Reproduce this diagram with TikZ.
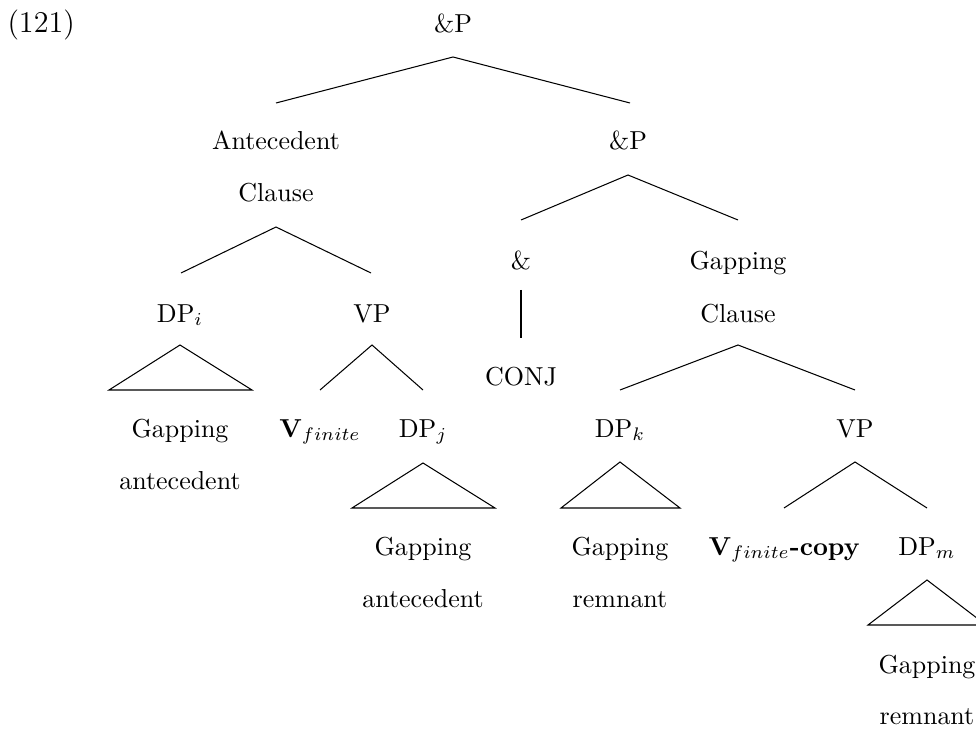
\documentclass[tikz,border=0pt]{standalone}
\usetikzlibrary{calc}
\begin{document}
\begin{tikzpicture}[x=0.385pt,y=-0.385pt,
  lbl/.style={anchor=base,inner sep=0pt,font=\normalsize},
  branch/.style={line width=0.4pt},
  roof/.style={line width=0.4pt}]
\useasboundingbox (0,0) rectangle (976,729);

% example number
\node[lbl,anchor=base west,font=\fontsize{11.6}{14}\selectfont] (ex) at (7,33) {(121)};

% labels
\node[lbl] (top)  at (453,33)  {\&P};
\node[lbl] (ant1) at (276,150) {Antecedent};
\node[lbl] (ant2) at (276,202) {Clause};
\node[lbl] (cp)   at (628,150) {\&P};
\node[lbl] (amp)  at (521,270) {\&};
\node[lbl] (gc1)  at (738,270) {Gapping};
\node[lbl] (gc2)  at (738,322) {Clause};
\node[lbl] (dpi)  at (180,322) {DP$_i$};
\node[lbl] (vpa)  at (372,322) {VP};
\node[lbl] (conj) at (521,385) {CONJ};
\node[lbl] (ga1)  at (180,437) {Gapping};
\node[lbl] (ga2)  at (180,489) {antecedent};
\node[lbl] (vf)   at (320,437) {$\mathbf{V}_{finite}$};
\node[lbl] (dpj)  at (423,437) {DP$_j$};
\node[lbl] (dpk)  at (620,437) {DP$_k$};
\node[lbl] (vpg)  at (855,437) {VP};
\node[lbl] (gb1)  at (423,555) {Gapping};
\node[lbl] (gb2)  at (423,607) {antecedent};
\node[lbl] (gr1)  at (620,555) {Gapping};
\node[lbl] (gr2)  at (620,607) {remnant};
\node[lbl] (vfc)  at (784,555) {$\mathbf{V}_{finite}$\textbf{-copy}};
\node[lbl] (dpm)  at (927,555) {DP$_m$};
\node[lbl] (gm1)  at (927,673) {Gapping};
\node[lbl] (gm2)  at (927,724) {remnant};

% branch points
\coordinate (topA) at (453,57);
\coordinate (topL) at (276,103);
\coordinate (topR) at (630,103);
\coordinate (cpA)  at (628,175);
\coordinate (cpL)  at (521,220);
\coordinate (cpR)  at (738,220);
\coordinate (acA)  at (276,227);
\coordinate (acL)  at (181,273);
\coordinate (acR)  at (371,273);
\coordinate (ampT) at (521,290);
\coordinate (ampB) at (521,338);
\coordinate (gcA)  at (738,345);
\coordinate (gcL)  at (620,390);
\coordinate (gcR)  at (855,390);
\coordinate (vaA)  at (372,345);
\coordinate (vaL)  at (320,390);
\coordinate (vaR)  at (423,390);
\coordinate (vgA)  at (855,462);
\coordinate (vgL)  at (784,508);
\coordinate (vgR)  at (927,508);

% branches
\draw[branch] (topL) -- (topA) -- (topR);
\draw[branch] (cpL) -- (cpA) -- (cpR);
\draw[branch] (acL) -- (acA) -- (acR);
\draw[branch] (ampT) -- (ampB);
\draw[branch] (gcL) -- (gcA) -- (gcR);
\draw[branch] (vaL) -- (vaA) -- (vaR);
\draw[branch] (vgL) -- (vgA) -- (vgR);

% roofs over unanalysed constituents
\coordinate (riA) at (180,345);
\coordinate (riL) at (109,390);
\coordinate (riR) at (252,390);
\coordinate (rjA) at (423,463);
\coordinate (rjL) at (352,508);
\coordinate (rjR) at (495,508);
\coordinate (rkA) at (620,462);
\coordinate (rkL) at (561,508);
\coordinate (rkR) at (680,508);
\coordinate (rmA) at (927,580);
\coordinate (rmL) at (868,625);
\coordinate (rmR) at (986,625);
\draw[roof] (riA) -- (riL) -- (riR) -- cycle;
\draw[roof] (rjA) -- (rjL) -- (rjR) -- cycle;
\draw[roof] (rkA) -- (rkL) -- (rkR) -- cycle;
\draw[roof] (rmA) -- (rmL) -- (rmR) -- cycle;
\end{tikzpicture}
\end{document}
